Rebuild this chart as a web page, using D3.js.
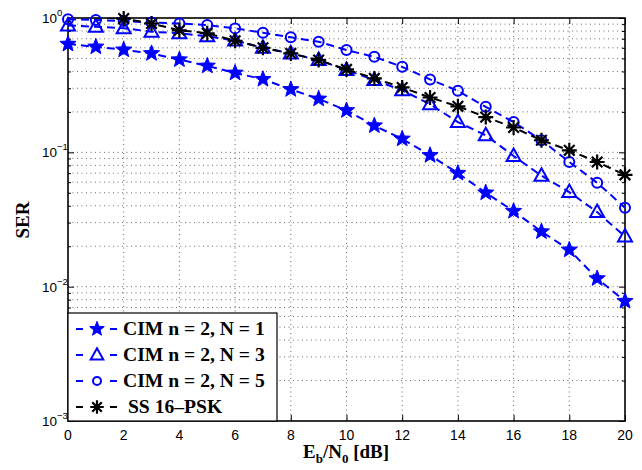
<!DOCTYPE html>
<html><head><meta charset="utf-8">
<script src="https://cdn.jsdelivr.net/npm/d3@7"></script>
<style>body{margin:0;background:#fff}svg{display:block}</style>
</head><body>
<svg id="c" width="642" height="470"></svg>
<script>
const ebn0 = [0,1,2,3,4,5,6,7,8,9,10,11,12,13,14,15,16,17,18,19,20];
const cimN1 = [0.64,0.61,0.58,0.545,0.49,0.44,0.39,0.35,0.294,0.25,0.205,0.158,0.126,0.095,0.070,0.050,0.0365,0.0257,0.0188,0.0115,0.0078];
const cimN3 = [0.88,0.86,0.84,0.79,0.77,0.73,0.68,0.60,0.545,0.486,0.41,0.345,0.29,0.228,0.168,0.134,0.094,0.067,0.0506,0.0359,0.0236];
const cimN5 = [0.98,0.965,0.95,0.925,0.91,0.887,0.837,0.777,0.718,0.666,0.577,0.514,0.433,0.349,0.287,0.218,0.168,0.123,0.0847,0.0594,0.0387];
const ss16 = [1.03,1.01,0.99,0.91,0.81,0.77,0.677,0.60,0.545,0.486,0.414,0.355,0.304,0.256,0.22,0.183,0.153,0.123,0.1035,0.0847,0.068];
const seriesNames = ["CIM n = 2, N = 1","CIM n = 2, N = 3","CIM n = 2, N = 5"," SS 16\u2013PSK"];
const xTicks = [0,2,4,6,8,10,12,14,16,18,20];
const yTickExps = [0,-1,-2,-3];

const series = [
  {name: seriesNames[0], values: cimN1, color: "#0000ff", marker: "pent"},
  {name: seriesNames[1], values: cimN3, color: "#0000ff", marker: "tri"},
  {name: seriesNames[2], values: cimN5, color: "#0000ff", marker: "circ"},
  {name: seriesNames[3], values: ss16, color: "#000000", marker: "ast"}
];

const L = 68, R = 625, T = 18, B = 421;
const x = d3.scaleLinear().domain([0,20]).range([L,R]);
const y = d3.scaleLog().domain([1e-3,1]).range([B,T]);
const svg = d3.select("#c");

svg.append("defs").append("clipPath").attr("id","pc")
  .append("rect").attr("x",L).attr("y",T).attr("width",R-L).attr("height",B-T);

// grid
const g = svg.append("g");
const minorY = [];
for (let e=-3; e<0; e++) for (let k=1; k<=9; k++) minorY.push(k*Math.pow(10,e));
g.selectAll(".gy").data(minorY.filter(v=>v>1e-3 && v<1)).enter().append("line")
  .attr("x1",L).attr("x2",R).attr("y1",d=>y(d)).attr("y2",d=>y(d))
  .attr("stroke","#444").attr("stroke-width",0.8).attr("stroke-dasharray","1,3.5");
g.selectAll(".gx").data(xTicks.filter(v=>v>0&&v<20)).enter().append("line")
  .attr("y1",T).attr("y2",B).attr("x1",d=>x(d)).attr("x2",d=>x(d))
  .attr("stroke","#444").attr("stroke-width",0.8).attr("stroke-dasharray","1,3.5");

// axes via d3 axis (ticks inside)
const xAxisB = d3.axisBottom(x).tickValues(xTicks).tickSize(-6).tickFormat("");
const xAxisT = d3.axisTop(x).tickValues(xTicks).tickSize(-6).tickFormat("");
svg.append("g").attr("transform",`translate(0,${B})`).call(xAxisB).call(s=>s.select(".domain").remove());
svg.append("g").attr("transform",`translate(0,${T})`).call(xAxisT).call(s=>s.select(".domain").remove());
const majorY = yTickExps.map(e=>Math.pow(10,e));
const minorOnly = minorY.filter(v=>!majorY.some(m=>Math.abs(m-v)<1e-12));
svg.append("g").attr("transform",`translate(${L},0)`).call(d3.axisLeft(y).tickValues(majorY).tickSize(-6).tickFormat("")).call(s=>s.select(".domain").remove());
svg.append("g").attr("transform",`translate(${R},0)`).call(d3.axisRight(y).tickValues(majorY).tickSize(-6).tickFormat("")).call(s=>s.select(".domain").remove());
svg.append("g").attr("transform",`translate(${L},0)`).call(d3.axisLeft(y).tickValues(minorOnly).tickSize(-3).tickFormat("")).call(s=>s.select(".domain").remove());
svg.append("g").attr("transform",`translate(${R},0)`).call(d3.axisRight(y).tickValues(minorOnly).tickSize(-3).tickFormat("")).call(s=>s.select(".domain").remove());
svg.selectAll(".tick line").attr("stroke","#000").attr("stroke-width",1);

// tick labels
const tf = "'Liberation Sans', Arial, sans-serif";
svg.append("g").selectAll("text").data(xTicks).enter().append("text")
  .attr("x",d=>x(d)).attr("y",B+19).attr("text-anchor","middle")
  .attr("font-family",tf).attr("font-size",14).text(d=>d);
const yl = svg.append("g").selectAll("text").data(yTickExps).enter().append("text")
  .attr("x",42).attr("y",d=>y(Math.pow(10,d))+5)
  .attr("font-family",tf).attr("font-size",13.5);
yl.append("tspan").text("10");
yl.append("tspan").attr("font-size",9.5).attr("dy",-7).text(d=>d===0?"0":"\u2212"+(-d).toString());

// box
svg.append("rect").attr("x",L).attr("y",T).attr("width",R-L).attr("height",B-T)
  .attr("fill","none").attr("stroke","#000").attr("stroke-width",1.6);

// markers
function drawMarker(sel, type, color, k){
  k = k || 1;
  if (type==="pent"){
    const pts=[];
    for(let i=0;i<10;i++){const r=(i%2===0?8.5:3.6)*k;const a=-Math.PI/2+i*Math.PI/5;pts.push([r*Math.cos(a),r*Math.sin(a)]);}
    sel.append("path").attr("d","M"+pts.map(p=>p.join(",")).join("L")+"Z").attr("fill",color).attr("stroke",color).attr("stroke-width",1);
  } else if (type==="tri"){
    sel.append("path").attr("d",`M0,${-7.5*k}L${7*k},${5*k}L${-7*k},${5*k}Z`).attr("fill","none").attr("stroke",color).attr("stroke-width",2);
  } else if (type==="circ"){
    sel.append("circle").attr("r",5*k).attr("fill","none").attr("stroke",color).attr("stroke-width",2);
  } else if (type==="ast"){
    const r=7.5*k, d=r*Math.SQRT1_2;
    sel.append("path").attr("d",`M${-r},0L${r},0M0,${-r}L0,${r}M${-d},${-d}L${d},${d}M${-d},${d}L${d},${-d}`)
      .attr("stroke",color).attr("stroke-width",2.2).attr("fill","none");
  }
}

const line = d3.line().x((d,i)=>x(ebn0[i])).y(d=>y(d));
series.forEach(s=>{
  svg.append("path").attr("d",line(s.values)).attr("clip-path","url(#pc)")
    .attr("fill","none").attr("stroke",s.color).attr("stroke-width",2).attr("stroke-dasharray","8,5");
  const pts = s.values.map((v,i)=>({x:ebn0[i],v})).filter(p=>p.v<=1);
  svg.append("g").selectAll("g").data(pts).enter().append("g")
    .attr("transform",p=>`translate(${x(p.x)},${y(p.v)})`)
    .each(function(){drawMarker(d3.select(this), s.marker, s.color);});
});

// legend
const lg = svg.append("g");
lg.append("rect").attr("x",L).attr("y",313).attr("width",209).attr("height",B-313)
  .attr("fill","#fff").attr("stroke","#000").attr("stroke-width",1.2);
series.forEach((s,i)=>{
  const cy = 329 + i*26;
  lg.append("line").attr("x1",76).attr("x2",117).attr("y1",cy).attr("y2",cy)
    .attr("stroke",s.color).attr("stroke-width",2).attr("stroke-dasharray","7,27");
  const m = lg.append("g").attr("transform",`translate(97,${cy})`);
  drawMarker(m, s.marker, s.color, s.marker==="circ"?0.8:0.9);
  const t = lg.append("text").attr("x",123).attr("y",cy+6).attr("font-family","'Liberation Serif','Times New Roman',serif")
    .attr("font-weight","bold").attr("font-size",18).style("white-space","pre").text(s.name);
  const len = t.node().getComputedTextLength();
  t.attr("textLength", len*1.09).attr("lengthAdjust","spacingAndGlyphs");
});

// axis labels
const sf = "'Liberation Serif','Times New Roman',serif";
const xl = svg.append("text").attr("x",346).attr("y",458).attr("text-anchor","middle")
  .attr("font-family",sf).attr("font-weight","bold").attr("font-size",19);
xl.append("tspan").text("E");
xl.append("tspan").attr("font-size",13).attr("dy",5).text("b");
xl.append("tspan").attr("dy",-5).text("/N");
xl.append("tspan").attr("font-size",13).attr("dy",5).text("0");
xl.append("tspan").attr("dy",-5).text(" [dB]");
svg.append("text").attr("transform","translate(29,220) rotate(-90)").attr("text-anchor","middle")
  .attr("font-family",sf).attr("font-weight","bold").attr("font-size",19).text("SER");
</script>
</body></html>
